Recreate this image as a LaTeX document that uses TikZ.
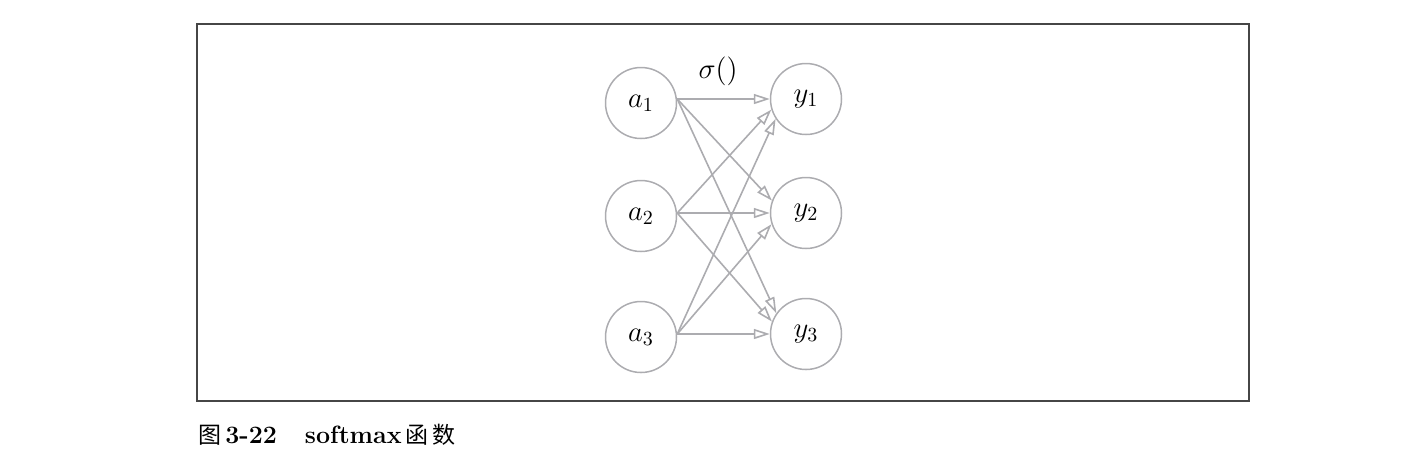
\documentclass[tikz,border=0pt]{standalone}
\usepackage{fontspec}
\newfontfamily\cjk{Noto Sans CJK SC}
\usetikzlibrary{arrows.meta}
\definecolor{linegray}{RGB}{172,172,176}
\definecolor{framegray}{RGB}{70,70,70}
\tikzset{
  neuron/.style={circle,draw=linegray,line width=0.75pt,minimum size=35.5pt,inner sep=0pt,font=\fontsize{14}{16}\selectfont},
  conn/.style={draw=linegray,line width=0.8pt,-{Triangle[open,length=8pt,width=5pt]}},
}
\begin{document}
\begin{tikzpicture}[x=0.5pt,y=-0.5pt]
\useasboundingbox (0,0) rectangle (1403,457);
\draw[framegray,line width=0.6pt] (197,24) rectangle (1249,401);
\node[neuron] (a1) at (641,103) {$a_1$};
\node[neuron] (a2) at (641,216) {$a_2$};
\node[neuron] (a3) at (641,337) {$a_3$};
\node[neuron] (y1) at (806,99) {$y_1$};
\node[neuron] (y2) at (806,213) {$y_2$};
\node[neuron] (y3) at (806,334) {$y_3$};
\node[font=\fontsize{13.5}{15}\selectfont] (sig) at (718,71) {$\sigma()$};
\coordinate (s1) at (a1.east |- y1.center);
\coordinate (s2) at (a2.east |- y2.center);
\coordinate (s3) at (a3.east |- y3.center);
\draw[conn] (s1) -- (y1.180);
\draw[conn] (s1) -- (y2.160);
\draw[conn] (s1) -- (y3.145);
\draw[conn] (s2) -- (y1.197);
\draw[conn] (s2) -- (y2.180);
\draw[conn] (s2) -- (y3.160);
\draw[conn] (s3) -- (y1.213);
\draw[conn] (s3) -- (y2.198);
\draw[conn] (s3) -- (y3.180);
\node[anchor=base west,inner sep=0pt] (cap) at (198,443) {{\cjk\fontsize{11.5}{12}\selectfont 图}\hspace{2pt}{\fontsize{12.5}{14}\selectfont\bfseries 3-22\hspace{14pt}{\addfontfeature{LetterSpace=8}softmax}}\hspace{2pt}{\cjk\mdseries\fontsize{11.5}{12}\selectfont 函\hspace{2pt}数}};
\end{tikzpicture}
\end{document}
